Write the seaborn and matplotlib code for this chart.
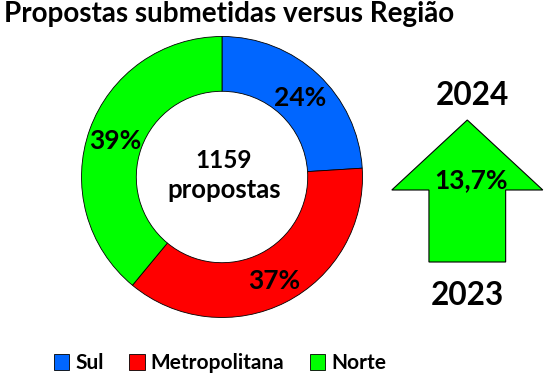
import matplotlib
matplotlib.use('Agg')
import matplotlib.pyplot as plt
import seaborn as sns
from matplotlib.patches import FancyArrow

# ==========================
# Datos
# ==========================
regioes = ['Sul', 'Metropolitana', 'Norte']
percentuais = [24, 37, 39]
cores = ['#0066FF', '#FF0000', '#00FF00']
total_propostas = 1159
ano_anterior = '2023'
ano_atual = '2024'
crescimento = '13,7%'

sns.set_theme(style='white')
plt.rcParams['font.family'] = ['Lato', 'DejaVu Sans']
plt.rcParams['font.weight'] = 'bold'
plt.rcParams['text.color'] = 'black'

W, H = 550, 379
fig = plt.figure(figsize=(W / 100, H / 100), dpi=100)
ax = fig.add_axes([0, 0, 1, 1])

# ==========================
# Gráfico de rosca
# ==========================
cx, cy, r = 222, H - 177, 140.5
wedges, _ = ax.pie(
    percentuais,
    colors=cores,
    startangle=90,
    counterclock=False,
    center=(cx, cy),
    radius=r,
    wedgeprops=dict(width=r * 0.39, edgecolor='black', linewidth=0.6),
)
ax.set_xlim(0, W)
ax.set_ylim(0, H)
ax.set_aspect('equal')
ax.axis('off')

pos_rotulos = [(300, 106), (274, 289), (115, 149)]
for p, (x, y) in zip(percentuais, pos_rotulos):
    ax.text(x, H - y, f'{p}%', ha='center', va='baseline', fontsize=19,
            fontweight='bold', color='black')

ax.text(224, H - 168, f'{total_propostas}', ha='center', va='baseline',
        fontsize=17.5, fontweight='bold', color='black')
ax.text(224, H - 198, 'propostas', ha='center', va='baseline',
        fontsize=18.5, fontweight='bold', color='black')

# ==========================
# Seta de crescimento
# ==========================
seta = FancyArrow(467.3, H - 262, 0, 142, width=76.7, head_width=151,
                  head_length=70, length_includes_head=True,
                  facecolor='#00FF00', edgecolor='black', linewidth=0.8)
ax.add_patch(seta)
ax.text(471, H - 188, crescimento, ha='center', va='baseline', fontsize=19,
        fontweight='bold', color='black')
ax.text(472, H - 105, ano_atual, ha='center', va='baseline', fontsize=22.7,
        fontweight='bold', color='black')
ax.text(467.5, H - 305, ano_anterior, ha='center', va='baseline',
        fontsize=22.7, fontweight='bold', color='black')

# ==========================
# Título e legenda
# ==========================
ax.text(4, H - 22.3, 'Propostas submetidas versus Região', ha='left',
        va='baseline', fontsize=20, fontweight='bold', color='black')

leg = ax.legend(wedges, regioes, loc='lower center',
                bbox_to_anchor=(220 / W, -13 / H),
                ncol=3, frameon=False, handlelength=0.75,
                handleheight=0.75, handletextpad=0.3, columnspacing=1.2,
                prop={'weight': 'bold', 'size': 15})
for t in leg.get_texts():
    t.set_color('black')

fig.savefig('out.png', dpi=100)
